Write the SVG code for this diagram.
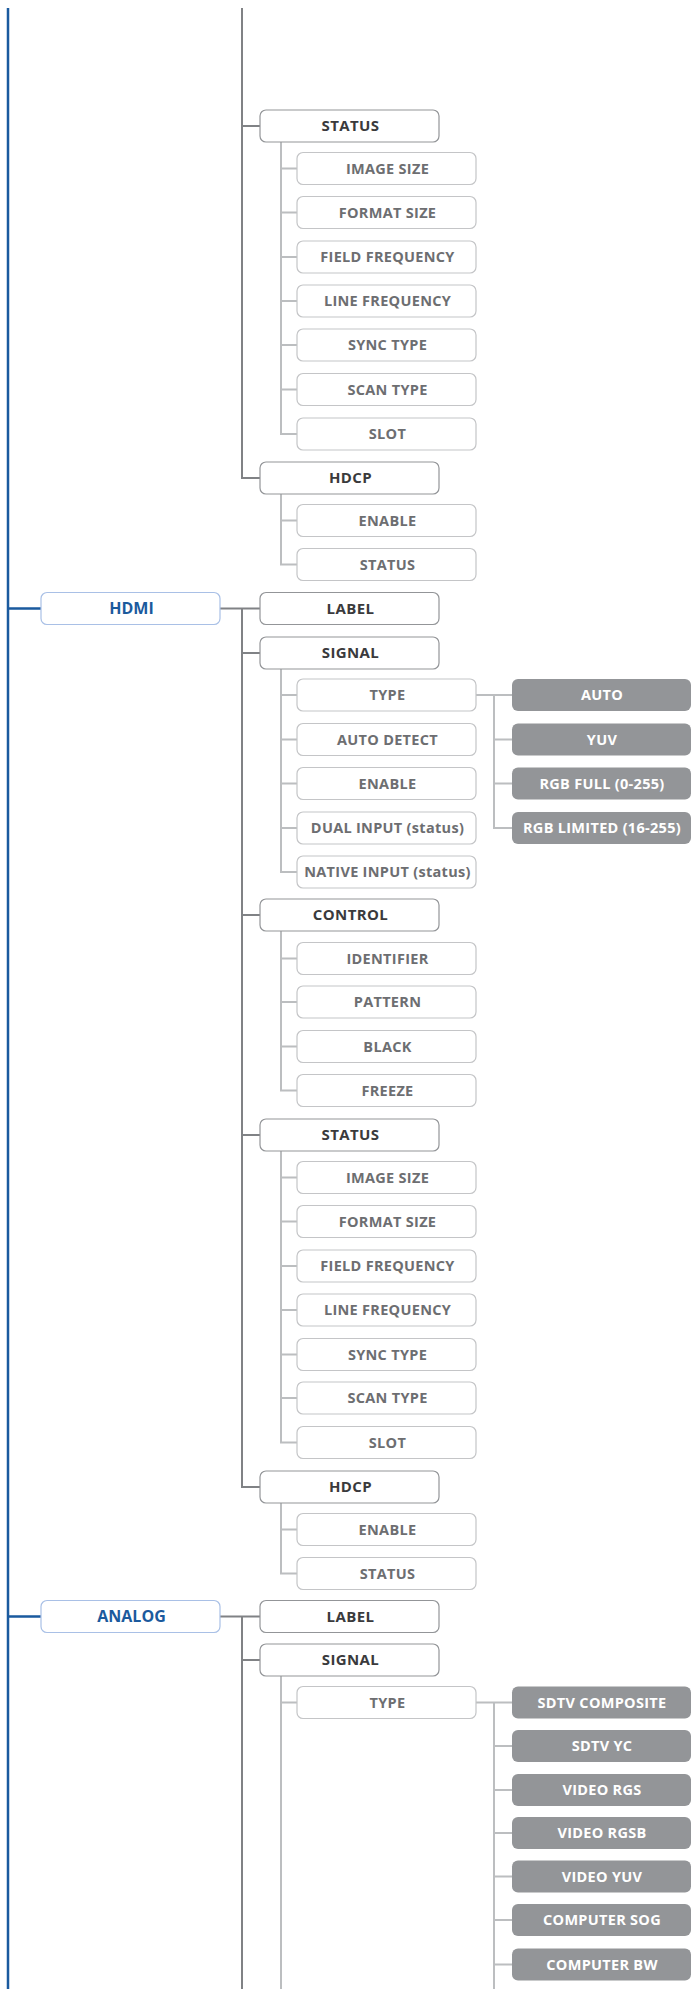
<svg xmlns="http://www.w3.org/2000/svg" width="695" height="1989" viewBox="0 0 695 1989">
<style>
text{font-family:"Open Sans","Liberation Sans",sans-serif;text-anchor:middle;}
.b1 rect{fill:#fff;stroke:#a9c0e6;stroke-width:1.2;}
.b2 rect{fill:#fff;stroke:#939598;stroke-width:1.2;}
.b3 rect{fill:#fff;stroke:#c4c5c7;stroke-width:1.2;}
.b4 rect{fill:#939598;stroke:none;}
.b1 text{font-size:16px;font-weight:700;fill:#1b5a9d;}
.b2 text{font-size:15px;font-weight:700;fill:#3a3a3c;letter-spacing:0.4px;}
.b3 text{font-size:14.5px;font-weight:700;fill:#6d6e71;letter-spacing:0.3px;}
.b4 text{font-size:14.5px;font-weight:700;fill:#fff;letter-spacing:0.3px;}
.cb{fill:none;stroke:#1a5a9e;stroke-width:2.5;}
.c2{fill:none;stroke:#808285;stroke-width:2;}
.c3{fill:none;stroke:#bcbec0;stroke-width:2;}
</style>
<g id="connectors">
<path class="cb" d="M8,8V1989M8,608.5H41M8,1616.5H41"/>
<path class="c2" d="M220,608.5H260M220,1616.5H260"/>
<path class="c2" d="M242,8V478H260M242,126H260"/>
<path class="c2" d="M242,608.5V1487H260M242,653H260M242,915H260M242,1135H260"/>
<path class="c2" d="M242,1616.5V1989M242,1660H260"/>
<path class="c3" d="M281,142V434H297M281,168.5H297M281,212.5H297M281,257H297M281,301H297M281,345H297M281,389.5H297"/>
<path class="c3" d="M281,494V564.5H297M281,520.5H297"/>
<path class="c3" d="M281,669V872H297M281,695H297M281,739.5H297M281,783.5H297M281,828H297"/>
<path class="c3" d="M281,931V1090.5H297M281,958.5H297M281,1002H297M281,1046.5H297"/>
<path class="c3" d="M281,1151V1442.5H297M281,1177.5H297M281,1221.5H297M281,1266H297M281,1310H297M281,1354.5H297M281,1398H297"/>
<path class="c3" d="M281,1503V1573.5H297M281,1529.5H297"/>
<path class="c3" d="M281,1676V1989M281,1702.5H297"/>
<path class="c3" d="M476,695H512M494,695V828H512M494,739.5H512M494,783.5H512"/>
<path class="c3" d="M476,1702.5H512M494,1702.5V1989M494,1746H512M494,1790H512M494,1833H512M494,1876.5H512M494,1920H512M494,1964.5H512"/>
</g>
<g id="status-a" class="b2"><rect x="260" y="110" width="179" height="32" rx="6"/><text x="350.5" y="131">STATUS</text></g>
<g id="imgsize-a" class="b3"><rect x="297" y="152.5" width="179" height="32" rx="6"/><text x="387.5" y="173.5">IMAGE SIZE</text></g>
<g id="fmtsize-a" class="b3"><rect x="297" y="196.5" width="179" height="32" rx="6"/><text x="387.5" y="217.5">FORMAT SIZE</text></g>
<g id="fieldfreq-a" class="b3"><rect x="297" y="241" width="179" height="32" rx="6"/><text x="387.5" y="262">FIELD FREQUENCY</text></g>
<g id="linefreq-a" class="b3"><rect x="297" y="285" width="179" height="32" rx="6"/><text x="387.5" y="306">LINE FREQUENCY</text></g>
<g id="sync-a" class="b3"><rect x="297" y="329" width="179" height="32" rx="6"/><text x="387.5" y="350">SYNC TYPE</text></g>
<g id="scan-a" class="b3"><rect x="297" y="373.5" width="179" height="32" rx="6"/><text x="387.5" y="394.5">SCAN TYPE</text></g>
<g id="slot-a" class="b3"><rect x="297" y="418" width="179" height="32" rx="6"/><text x="387.5" y="439">SLOT</text></g>
<g id="hdcp-a" class="b2"><rect x="260" y="462" width="179" height="32" rx="6"/><text x="350.5" y="483">HDCP</text></g>
<g id="hdcpen-a" class="b3"><rect x="297" y="504.5" width="179" height="32" rx="6"/><text x="387.5" y="525.5">ENABLE</text></g>
<g id="hdcpst-a" class="b3"><rect x="297" y="548.5" width="179" height="32" rx="6"/><text x="387.5" y="569.5">STATUS</text></g>
<g id="hdmi" class="b1"><rect x="41" y="592.5" width="179" height="32" rx="6"/><text x="131.5" y="614">HDMI</text></g>
<g id="label-h" class="b2"><rect x="260" y="592.5" width="179" height="32" rx="6"/><text x="350.5" y="613.5">LABEL</text></g>
<g id="signal-h" class="b2"><rect x="260" y="637" width="179" height="32" rx="6"/><text x="350.5" y="658">SIGNAL</text></g>
<g id="type-h" class="b3"><rect x="297" y="679" width="179" height="32" rx="6"/><text x="387.5" y="700">TYPE</text></g>
<g id="autodet-h" class="b3"><rect x="297" y="723.5" width="179" height="32" rx="6"/><text x="387.5" y="744.5">AUTO DETECT</text></g>
<g id="enable-h" class="b3"><rect x="297" y="767.5" width="179" height="32" rx="6"/><text x="387.5" y="788.5">ENABLE</text></g>
<g id="dual-h" class="b3"><rect x="297" y="812" width="179" height="32" rx="6"/><text x="387.5" y="833">DUAL INPUT (status)</text></g>
<g id="native-h" class="b3"><rect x="297" y="856" width="179" height="32" rx="6"/><text x="387.5" y="877">NATIVE INPUT (status)</text></g>
<g id="auto-h" class="b4"><rect x="512" y="679" width="179" height="32" rx="6"/><text x="602" y="700">AUTO</text></g>
<g id="yuv-h" class="b4"><rect x="512" y="723.5" width="179" height="32" rx="6"/><text x="602" y="744.5">YUV</text></g>
<g id="rgbfull-h" class="b4"><rect x="512" y="767.5" width="179" height="32" rx="6"/><text x="602" y="788.5">RGB FULL (0-255)</text></g>
<g id="rgblim-h" class="b4"><rect x="512" y="812" width="179" height="32" rx="6"/><text x="602" y="833">RGB LIMITED (16-255)</text></g>
<g id="control-h" class="b2"><rect x="260" y="899" width="179" height="32" rx="6"/><text x="350.5" y="920">CONTROL</text></g>
<g id="ident-h" class="b3"><rect x="297" y="942.5" width="179" height="32" rx="6"/><text x="387.5" y="963.5">IDENTIFIER</text></g>
<g id="pattern-h" class="b3"><rect x="297" y="986" width="179" height="32" rx="6"/><text x="387.5" y="1007">PATTERN</text></g>
<g id="black-h" class="b3"><rect x="297" y="1030.5" width="179" height="32" rx="6"/><text x="387.5" y="1051.5">BLACK</text></g>
<g id="freeze-h" class="b3"><rect x="297" y="1074.5" width="179" height="32" rx="6"/><text x="387.5" y="1095.5">FREEZE</text></g>
<g id="status-h" class="b2"><rect x="260" y="1119" width="179" height="32" rx="6"/><text x="350.5" y="1140">STATUS</text></g>
<g id="imgsize-h" class="b3"><rect x="297" y="1161.5" width="179" height="32" rx="6"/><text x="387.5" y="1182.5">IMAGE SIZE</text></g>
<g id="fmtsize-h" class="b3"><rect x="297" y="1205.5" width="179" height="32" rx="6"/><text x="387.5" y="1226.5">FORMAT SIZE</text></g>
<g id="fieldfreq-h" class="b3"><rect x="297" y="1250" width="179" height="32" rx="6"/><text x="387.5" y="1271">FIELD FREQUENCY</text></g>
<g id="linefreq-h" class="b3"><rect x="297" y="1294" width="179" height="32" rx="6"/><text x="387.5" y="1315">LINE FREQUENCY</text></g>
<g id="sync-h" class="b3"><rect x="297" y="1338.5" width="179" height="32" rx="6"/><text x="387.5" y="1359.5">SYNC TYPE</text></g>
<g id="scan-h" class="b3"><rect x="297" y="1382" width="179" height="32" rx="6"/><text x="387.5" y="1403">SCAN TYPE</text></g>
<g id="slot-h" class="b3"><rect x="297" y="1426.5" width="179" height="32" rx="6"/><text x="387.5" y="1447.5">SLOT</text></g>
<g id="hdcp-h" class="b2"><rect x="260" y="1471" width="179" height="32" rx="6"/><text x="350.5" y="1492">HDCP</text></g>
<g id="hdcpen-h" class="b3"><rect x="297" y="1513.5" width="179" height="32" rx="6"/><text x="387.5" y="1534.5">ENABLE</text></g>
<g id="hdcpst-h" class="b3"><rect x="297" y="1557.5" width="179" height="32" rx="6"/><text x="387.5" y="1578.5">STATUS</text></g>
<g id="analog" class="b1"><rect x="41" y="1600.5" width="179" height="32" rx="6"/><text x="131.5" y="1622">ANALOG</text></g>
<g id="label-a" class="b2"><rect x="260" y="1600.5" width="179" height="32" rx="6"/><text x="350.5" y="1621.5">LABEL</text></g>
<g id="signal-a" class="b2"><rect x="260" y="1644" width="179" height="32" rx="6"/><text x="350.5" y="1665">SIGNAL</text></g>
<g id="type-a" class="b3"><rect x="297" y="1686.5" width="179" height="32" rx="6"/><text x="387.5" y="1707.5">TYPE</text></g>
<g id="sdtvcomp-a" class="b4"><rect x="512" y="1686.5" width="179" height="32" rx="6"/><text x="602" y="1707.5">SDTV COMPOSITE</text></g>
<g id="sdtvyc-a" class="b4"><rect x="512" y="1730" width="179" height="32" rx="6"/><text x="602" y="1751">SDTV YC</text></g>
<g id="vrgs-a" class="b4"><rect x="512" y="1774" width="179" height="32" rx="6"/><text x="602" y="1795">VIDEO RGS</text></g>
<g id="vrgsb-a" class="b4"><rect x="512" y="1817" width="179" height="32" rx="6"/><text x="602" y="1838">VIDEO RGSB</text></g>
<g id="vyuv-a" class="b4"><rect x="512" y="1860.5" width="179" height="32" rx="6"/><text x="602" y="1881.5">VIDEO YUV</text></g>
<g id="csog-a" class="b4"><rect x="512" y="1904" width="179" height="32" rx="6"/><text x="602" y="1925">COMPUTER SOG</text></g>
<g id="cbw-a" class="b4"><rect x="512" y="1948.5" width="179" height="32" rx="6"/><text x="602" y="1969.5">COMPUTER BW</text></g>
</svg>
